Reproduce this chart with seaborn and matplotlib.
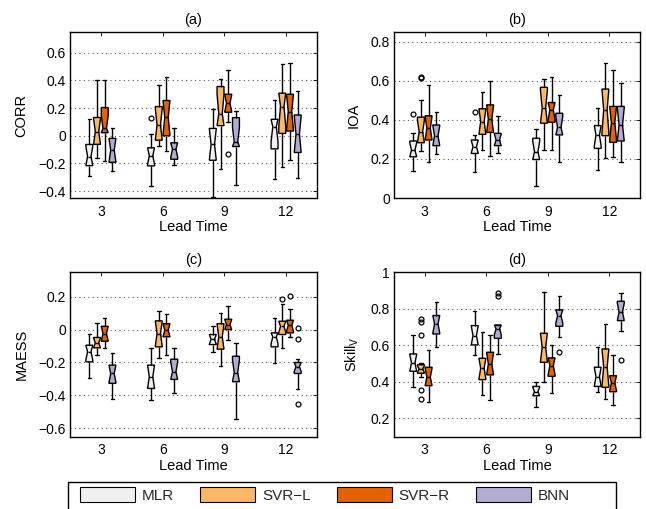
import numpy as np
import pandas as pd
import matplotlib
matplotlib.use("Agg")
import matplotlib.pyplot as plt
import seaborn as sns
from matplotlib.patches import Patch, Rectangle, PathPatch
from matplotlib.path import Path
from matplotlib.ticker import FuncFormatter

# ---------------- data ----------------
leads = ["3", "6", "9", "12"]
models = ["MLR", "SVR\u2212L", "SVR\u2212R", "BNN"]
colors = ["#F0F0F0", "#FDB863", "#E66101", "#B2ABD2"]

# rows: MLR, SVR-L, SVR-R, BNN ; columns: lead 3, 6, 9, 12
corr_lo = [[-0.293, -0.366, -0.444, -0.310],
           [-0.158, -0.073, -0.242, -0.225],
           [-0.184, -0.112, 0.100, -0.177],
           [-0.257, -0.208, -0.354, -0.305]]
corr_q1 = [[-0.216, -0.218, -0.177, -0.095],
           [-0.062, -0.032, 0.073, 0.017],
           [0.022, 0.000, 0.170, 0.034],
           [-0.192, -0.170, -0.078, -0.121]]
corr_med = [[-0.150, -0.145, -0.063, 0.065],
            [0.029, 0.078, 0.160, 0.211],
            [0.054, 0.133, 0.235, 0.175],
            [-0.104, -0.097, -0.045, 0.010]]
corr_q3 = [[-0.063, -0.087, 0.053, 0.119],
           [0.132, 0.211, 0.356, 0.308],
           [0.204, 0.255, 0.300, 0.300],
           [-0.019, -0.051, 0.131, 0.150]]
corr_hi = [[0.120, 0.010, 0.194, 0.255],
           [0.400, 0.364, 0.412, 0.521],
           [0.400, 0.422, 0.473, 0.526],
           [0.058, 0.058, 0.179, 0.320]]
corr_out = {(0, 1): [0.13], (2, 2): [-0.133]}
corr_ticks = [-0.4, -0.2, 0, 0.2, 0.4, 0.6]

ioa_lo = [[0.139, 0.134, 0.062, 0.142],
          [0.242, 0.245, 0.245, 0.206],
          [0.185, 0.216, 0.245, 0.208],
          [0.223, 0.228, 0.185, 0.182]]
ioa_q1 = [[0.211, 0.228, 0.197, 0.254],
          [0.283, 0.326, 0.383, 0.319],
          [0.297, 0.336, 0.388, 0.285],
          [0.268, 0.268, 0.323, 0.292]]
ioa_med = [[0.245, 0.263, 0.237, 0.323],
           [0.340, 0.391, 0.460, 0.452],
           [0.357, 0.403, 0.451, 0.386],
           [0.318, 0.297, 0.361, 0.374]]
ioa_q3 = [[0.292, 0.297, 0.306, 0.371],
          [0.414, 0.457, 0.567, 0.558],
          [0.421, 0.477, 0.489, 0.469],
          [0.374, 0.331, 0.434, 0.469]]
ioa_hi = [[0.331, 0.323, 0.352, 0.460],
          [0.503, 0.541, 0.609, 0.692],
          [0.580, 0.601, 0.618, 0.654],
          [0.438, 0.421, 0.529, 0.589]]
ioa_out = {(0, 0): [0.431], (1, 0): [0.612, 0.618], (0, 1): [0.44]}
ioa_ticks = [0, 0.2, 0.4, 0.6, 0.8]

maess_lo = [[-0.293, -0.428, -0.135, -0.206],
            [-0.156, -0.172, -0.220, -0.111],
            [-0.109, -0.156, -0.061, -0.044],
            [-0.424, -0.388, -0.545, -0.362]]
maess_q1 = [[-0.196, -0.358, -0.091, -0.105],
            [-0.111, -0.105, -0.119, -0.030],
            [-0.071, -0.044, 0.000, -0.020],
            [-0.327, -0.303, -0.317, -0.267]]
maess_med = [[-0.135, -0.287, -0.059, -0.044],
             [-0.081, -0.024, -0.044, 0.020],
             [-0.024, -0.004, 0.030, 0.026],
             [-0.267, -0.257, -0.261, -0.226]]
maess_q3 = [[-0.095, -0.216, -0.030, -0.020],
            [-0.048, 0.053, 0.036, 0.051],
            [0.020, 0.036, 0.063, 0.057],
            [-0.216, -0.180, -0.162, -0.200]]
maess_hi = [[-0.024, -0.115, 0.020, 0.071],
            [0.040, 0.111, 0.103, 0.154],
            [0.073, 0.097, 0.141, 0.127],
            [-0.141, -0.115, -0.081, -0.176]]
maess_out = {(1, 3): [0.184], (2, 3): [0.202], (3, 3): [0.012, -0.059, -0.455]}
maess_ticks = [-0.6, -0.4, -0.2, 0, 0.2]

skill_lo = [[0.369, 0.546, 0.259, 0.345],
            [0.427, 0.327, 0.400, 0.305],
            [0.287, 0.300, 0.338, 0.274],
            [0.592, 0.552, 0.643, 0.679]]
skill_q1 = [[0.457, 0.601, 0.323, 0.374],
            [0.446, 0.411, 0.506, 0.369],
            [0.378, 0.437, 0.429, 0.345],
            [0.661, 0.637, 0.703, 0.734]]
skill_med = [[0.502, 0.652, 0.345, 0.427],
             [0.469, 0.473, 0.588, 0.480],
             [0.424, 0.497, 0.488, 0.393],
             [0.716, 0.689, 0.762, 0.780]]
skill_q3 = [[0.552, 0.707, 0.374, 0.479],
            [0.493, 0.528, 0.665, 0.579],
            [0.479, 0.561, 0.530, 0.433],
            [0.762, 0.710, 0.793, 0.840]]
skill_hi = [[0.656, 0.785, 0.400, 0.588],
            [0.500, 0.674, 0.889, 0.716],
            [0.574, 0.656, 0.601, 0.546],
            [0.835, 0.710, 0.868, 0.886]]
skill_out = {(1, 0): [0.305, 0.356, 0.656, 0.729, 0.743], (3, 1): [0.871, 0.886],
             (3, 2): [0.56], (3, 3): [0.521]}
skill_ticks = [0.2, 0.4, 0.6, 0.8, 1.0]


# ---------------- long table for seaborn ----------------
def expand(lo, q1, med, q3, hi, outs, base=10):
    """Sample whose boxplot statistics equal the given summary values."""
    low = sorted(o for o in outs if o < lo)
    high = sorted(o for o in outs if o > hi)
    a, b = len(low), len(high)
    n = base + a + b
    while True:
        ps = [k * (n - 1) for k in (0.25, 0.5, 0.75)]
        f = [int(np.floor(p)) for p in ps]
        c = [int(np.ceil(p)) for p in ps]
        if a < f[0] and c[0] < f[1] and c[1] < f[2] and c[2] < n - b - 1:
            break
        n += 1
    vals = [None] * n
    for i, v in enumerate(low):
        vals[i] = v
    vals[a] = lo
    for (fi, ci, v) in zip(f, c, (q1, med, q3)):
        vals[fi] = v
        vals[ci] = v
    vals[n - b - 1] = hi
    for i, v in enumerate(high):
        vals[n - b + i] = v
    for i in range(n):
        if vals[i] is None:
            vals[i] = vals[i - 1]
    return vals


def table(lo, q1, med, q3, hi, outs):
    rows = []
    for mi, m in enumerate(models):
        for li, l in enumerate(leads):
            vals = expand(lo[mi][li], q1[mi][li], med[mi][li], q3[mi][li],
                          hi[mi][li], outs.get((mi, li), []))
            rows += [(l, m, v) for v in vals]
    return pd.DataFrame(rows, columns=["lead", "model", "value"])


panels = [
    ("(a)", "CORR", table(corr_lo, corr_q1, corr_med, corr_q3, corr_hi, corr_out),
     (-0.45, 0.75), corr_ticks),
    ("(b)", "IOA", table(ioa_lo, ioa_q1, ioa_med, ioa_q3, ioa_hi, ioa_out),
     (0, 0.85), ioa_ticks),
    ("(c)", "MAESS", table(maess_lo, maess_q1, maess_med, maess_q3, maess_hi, maess_out),
     (-0.65, 0.35), maess_ticks),
    ("(d)", r"Skill$_\mathregular{V}$", table(skill_lo, skill_q1, skill_med, skill_q3, skill_hi, skill_out),
     (0.1, 1.0), skill_ticks),
]

# ---------------- figure ----------------
sns.set_theme(style="white")
plt.rcParams["font.family"] = ["Liberation Sans", "DejaVu Sans"]
plt.rcParams["mathtext.fontset"] = "custom"
plt.rcParams["mathtext.rm"] = "Liberation Sans"

W, H = 646, 509
fig = plt.figure(figsize=(W / 100, H / 100), dpi=100)
fig.patch.set_facecolor("white")

rects = [(70, 32, 247, 166), (394, 32, 246, 166), (70, 272, 247, 164.5), (394, 272, 246, 164.5)]

fmt = FuncFormatter(lambda v, p: f"{round(v, 6):g}".replace("-", "\u2212"))

for (title, ylabel, df, ylim, ticks), (x, y, w, h) in zip(panels, rects):
    ax = fig.add_axes([x / W, 1 - (y + h) / H, w / W, h / H])
    sns.boxplot(data=df, x="lead", y="value", hue="model", order=leads, hue_order=models,
                palette=colors, saturation=1, width=0.5, gap=0.1, notch=True, whis=1.5,
                linecolor="black", linewidth=1.0, fliersize=3.5,
                flierprops=dict(markerfacecolor="none", markeredgewidth=0.9),
                legend=False, ax=ax)
    # keep the notches inside the box (as in the original rendering)
    for p in ax.patches:
        if isinstance(p, PathPatch):
            v = np.array(p.get_path().vertices, dtype=float)
            if len(v) >= 11:
                q1v, q3v = v[0, 1], v[5, 1]
                for i in (2, 9):
                    v[i, 1] = max(v[i, 1], q1v)
                for i in (4, 7):
                    v[i, 1] = min(v[i, 1], q3v)
                p.set_path(Path(v, p.get_path().codes))
    ax.set_xlim(-0.5, 3.5)
    ax.set_ylim(*ylim)
    ax.set_yticks(ticks)
    ax.yaxis.set_major_formatter(fmt)
    ax.set_facecolor("white")
    ax.yaxis.grid(True, linestyle=(0, (1, 3)), color="0.35", linewidth=0.8)
    ax.xaxis.grid(False)
    ax.set_axisbelow(True)
    for s in ax.spines.values():
        s.set_visible(True)
        s.set_color("black")
        s.set_linewidth(1.0)
    ax.tick_params(axis="both", direction="in", top=True, right=True, length=3,
                   width=0.6, color="black", labelsize=10, labelcolor="black")
    ax.tick_params(axis="x", pad=5)
    ax.tick_params(axis="y", pad=3)
    ax.set_xlabel("Lead Time", fontsize=10.5, labelpad=1, color="black")
    ax.set_ylabel(ylabel, fontsize=10.5, labelpad=7, color="black")
    ax.set_title(title, fontsize=10.5, pad=6, color="black")

# ---------------- legend ----------------
handles = [Patch(facecolor=c, edgecolor="black", linewidth=0.8) for c in colors]
fig.legend(handles, models, loc="center left", bbox_to_anchor=(80 / W, 1 - 495 / H),
           ncol=4, frameon=False, fontsize=11, handlelength=3.6, handleheight=1.1,
           handletextpad=0.45, columnspacing=1.7, borderpad=0, borderaxespad=0)
fig.add_artist(Rectangle((68 / W, -0.5 / H), 548 / W, 28 / H, transform=fig.transFigure,
                         fill=False, edgecolor="black", linewidth=1.0))

fig.savefig("out.png", dpi=100)
